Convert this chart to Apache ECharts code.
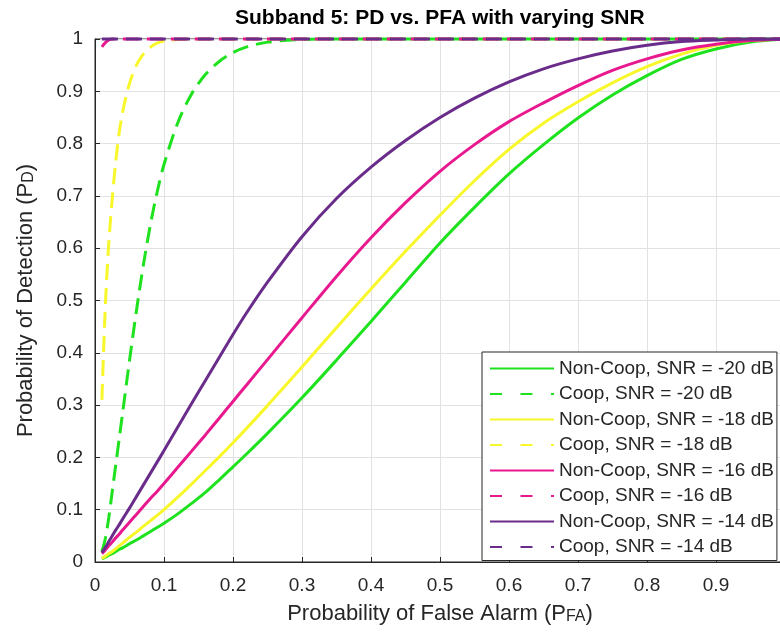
<!DOCTYPE html>
<html>
<head>
<meta charset="utf-8">
<script src="https://cdn.jsdelivr.net/npm/echarts@6/dist/echarts.min.js"></script>
<style>html,body{margin:0;padding:0;background:#fff}#c{width:780px;height:632px}</style>
</head>
<body>
<div id="c"></div>
<script>
// Probability of false alarm (x samples)
const pfa = [0.01, 0.015, 0.02, 0.025, 0.03, 0.035, 0.04, 0.05, 0.06, 0.07, 0.08, 0.09, 0.1, 0.12, 0.14, 0.16, 0.18, 0.2, 0.22, 0.25, 0.3, 0.35, 0.4, 0.45, 0.5, 0.55, 0.6, 0.65, 0.7, 0.75, 0.8, 0.85, 0.9, 0.95, 1.0];

// Non-cooperative curves
const nonCoop20 = [0.006, 0.009, 0.013, 0.016, 0.020, 0.024, 0.027, 0.035, 0.042, 0.050, 0.058, 0.066, 0.074, 0.092, 0.112, 0.133, 0.157, 0.182, 0.207, 0.246, 0.314, 0.386, 0.460, 0.535, 0.610, 0.678, 0.742, 0.798, 0.849, 0.893, 0.930, 0.961, 0.981, 0.994, 1.0];
const nonCoop18 = [0.007, 0.011, 0.016, 0.020, 0.025, 0.031, 0.036, 0.047, 0.057, 0.068, 0.0785, 0.089, 0.100, 0.124, 0.149, 0.175, 0.201, 0.228, 0.256, 0.299, 0.373, 0.448, 0.522, 0.594, 0.663, 0.729, 0.789, 0.839, 0.880, 0.916, 0.947, 0.971, 0.988, 0.997, 1.0];
const nonCoop16 = [0.016, 0.023, 0.031, 0.038, 0.046, 0.053, 0.061, 0.076, 0.091, 0.106, 0.121, 0.135, 0.150, 0.181, 0.212, 0.243, 0.275, 0.307, 0.339, 0.387, 0.467, 0.546, 0.620, 0.687, 0.747, 0.798, 0.842, 0.878, 0.911, 0.940, 0.962, 0.979, 0.990, 0.997, 1.0];
const nonCoop14 = [0.018, 0.028, 0.039, 0.050, 0.061, 0.071, 0.082, 0.103, 0.125, 0.147, 0.169, 0.191, 0.213, 0.258, 0.303, 0.347, 0.391, 0.435, 0.477, 0.535, 0.622, 0.695, 0.755, 0.806, 0.850, 0.887, 0.918, 0.943, 0.962, 0.977, 0.988, 0.995, 0.998, 1.0, 1.0];

// Cooperative curves
const coop20 = [0.02, 0.045, 0.085, 0.135, 0.185, 0.235, 0.285, 0.385, 0.48, 0.567, 0.643, 0.707, 0.76, 0.84, 0.895, 0.932, 0.957, 0.974, 0.985, 0.994, 0.999, 1.0, 1.0, 1.0, 1.0, 1.0, 1.0, 1.0, 1.0, 1.0, 1.0, 1.0, 1.0, 1.0, 1.0];
const coop18 = [0.31, 0.49, 0.61, 0.695, 0.765, 0.82, 0.86, 0.915, 0.95, 0.971, 0.984, 0.992, 0.996, 0.999, 1.0, 1.0, 1.0, 1.0, 1.0, 1.0, 1.0, 1.0, 1.0, 1.0, 1.0, 1.0, 1.0, 1.0, 1.0, 1.0, 1.0, 1.0, 1.0, 1.0, 1.0];
const coop16 = [0.985, 0.993, 0.998, 1.0, 1.0, 1.0, 1.0, 1.0, 1.0, 1.0, 1.0, 1.0, 1.0, 1.0, 1.0, 1.0, 1.0, 1.0, 1.0, 1.0, 1.0, 1.0, 1.0, 1.0, 1.0, 1.0, 1.0, 1.0, 1.0, 1.0, 1.0, 1.0, 1.0, 1.0, 1.0];
const coop14 = [1.0, 1.0, 1.0, 1.0, 1.0, 1.0, 1.0, 1.0, 1.0, 1.0, 1.0, 1.0, 1.0, 1.0, 1.0, 1.0, 1.0, 1.0, 1.0, 1.0, 1.0, 1.0, 1.0, 1.0, 1.0, 1.0, 1.0, 1.0, 1.0, 1.0, 1.0, 1.0, 1.0, 1.0, 1.0];

const seriesNames = ['Non-Coop, SNR = -20 dB', 'Coop, SNR = -20 dB', 'Non-Coop, SNR = -18 dB', 'Coop, SNR = -18 dB', 'Non-Coop, SNR = -16 dB', 'Coop, SNR = -16 dB', 'Non-Coop, SNR = -14 dB', 'Coop, SNR = -14 dB'];
const seriesValues = [nonCoop20, coop20, nonCoop18, coop18, nonCoop16, coop16, nonCoop14, coop14];
const seriesColors = ['#1fe21f', '#1fe21f', '#f7f72a', '#f7f72a', '#e8198f', '#e8198f', '#6a2c8a', '#6a2c8a'];
const seriesDashed = [false, true, false, true, false, true, false, true];

const axisTicks = [0, 0.1, 0.2, 0.3, 0.4, 0.5, 0.6, 0.7, 0.8, 0.9, 1];
const titleText = 'Subband 5: PD vs. PFA with varying SNR';

const FONT = '"Liberation Sans", Arial, Helvetica, sans-serif';
const TXT = '#262626';

// centre the title over the plot area (x = 440)
const mctx = document.createElement('canvas').getContext('2d');
mctx.font = 'bold 21px ' + FONT;
const titleW = mctx.measureText(titleText).width;

const series = seriesNames.map((name, i) => ({
  name: name,
  type: 'line',
  data: pfa.map((x, j) => [x, seriesValues[i][j]]),
  symbol: 'none',
  showSymbol: false,
  smooth: 0.3,
  clip: false,
  silent: true,
  z: 2 + i,
  lineStyle: {
    color: seriesColors[i],
    width: 3,
    type: seriesDashed[i] ? [16, 8] : 'solid',
    cap: 'butt'
  },
  itemStyle: { color: seriesColors[i] }
}));

const legendData = seriesNames.map((name, i) => seriesDashed[i]
  ? { name: name, lineStyle: { type: [12, 18.5] } }
  : { name: name });

const tickFmt = v => String(axisTicks.find(t => Math.abs(t - v) < 1e-9) ?? v);

const chart = echarts.init(document.getElementById('c'), null, { renderer: 'canvas' });
chart.setOption({
  animation: false,
  backgroundColor: '#ffffff',
  title: {
    text: titleText,
    left: Math.round(440 - titleW / 2 - 5),
    top: 3,
    padding: 5,
    textStyle: { fontFamily: FONT, fontSize: 21, fontWeight: 'bold', color: '#000' }
  },
  grid: {
    left: 95, top: 39, width: 690, bottom: 70,
    containLabel: false,
    outerBoundsMode: 'none',
    show: true,
    borderColor: TXT,
    borderWidth: 1
  },
  legend: {
    orient: 'vertical',
    left: 482,
    top: 352,
    data: legendData,
    itemWidth: 64,
    itemHeight: 14,
    itemGap: 6.5,
    padding: [7, 3, 4, 7],
    backgroundColor: '#ffffff',
    borderColor: TXT,
    borderWidth: 1,
    borderRadius: 0,
    selectedMode: false,
    itemStyle: { opacity: 0 },
    textStyle: { fontFamily: FONT, fontSize: 19, lineHeight: 19, color: TXT }
  },
  xAxis: {
    type: 'value', min: 0, max: 1, interval: 0.1,
    name: '{a|Probability of False Alarm (P}{s|FA}{a|)}',
    nameLocation: 'middle',
    nameGap: 41,
    nameTextStyle: {
      rich: {
        a: { fontFamily: FONT, fontSize: 22, lineHeight: 22, color: TXT, verticalAlign: 'top' },
        s: { fontFamily: FONT, fontSize: 16, lineHeight: 16, color: TXT, verticalAlign: 'bottom', padding: [9, 0, 0, 0] }
      }
    },
    axisLine: { show: true, lineStyle: { color: TXT, width: 1 } },
    axisTick: { show: true, inside: true, length: 5, lineStyle: { color: TXT } },
    axisLabel: { fontFamily: FONT, fontSize: 19, color: TXT, margin: 14, formatter: tickFmt },
    splitLine: { show: true, lineStyle: { color: '#e2e2e2', width: 1 } }
  },
  yAxis: {
    type: 'value', min: 0, max: 1, interval: 0.1,
    name: '{a|Probability of Detection (P}{s|D}{a|)}',
    nameLocation: 'middle',
    nameGap: 58,
    nameRotate: 90,
    nameTextStyle: {
      rich: {
        a: { fontFamily: FONT, fontSize: 22, lineHeight: 22, color: TXT, verticalAlign: 'top' },
        s: { fontFamily: FONT, fontSize: 16, lineHeight: 16, color: TXT, verticalAlign: 'bottom', padding: [9, 0, 0, 0] }
      }
    },
    axisLine: { show: true, lineStyle: { color: TXT, width: 1 } },
    axisTick: { show: true, inside: true, length: 5, lineStyle: { color: TXT } },
    axisLabel: { fontFamily: FONT, fontSize: 19, color: TXT, margin: 12, formatter: tickFmt },
    splitLine: { show: true, lineStyle: { color: '#e2e2e2', width: 1 } }
  },
  series: series
});
</script>
</body>
</html>
